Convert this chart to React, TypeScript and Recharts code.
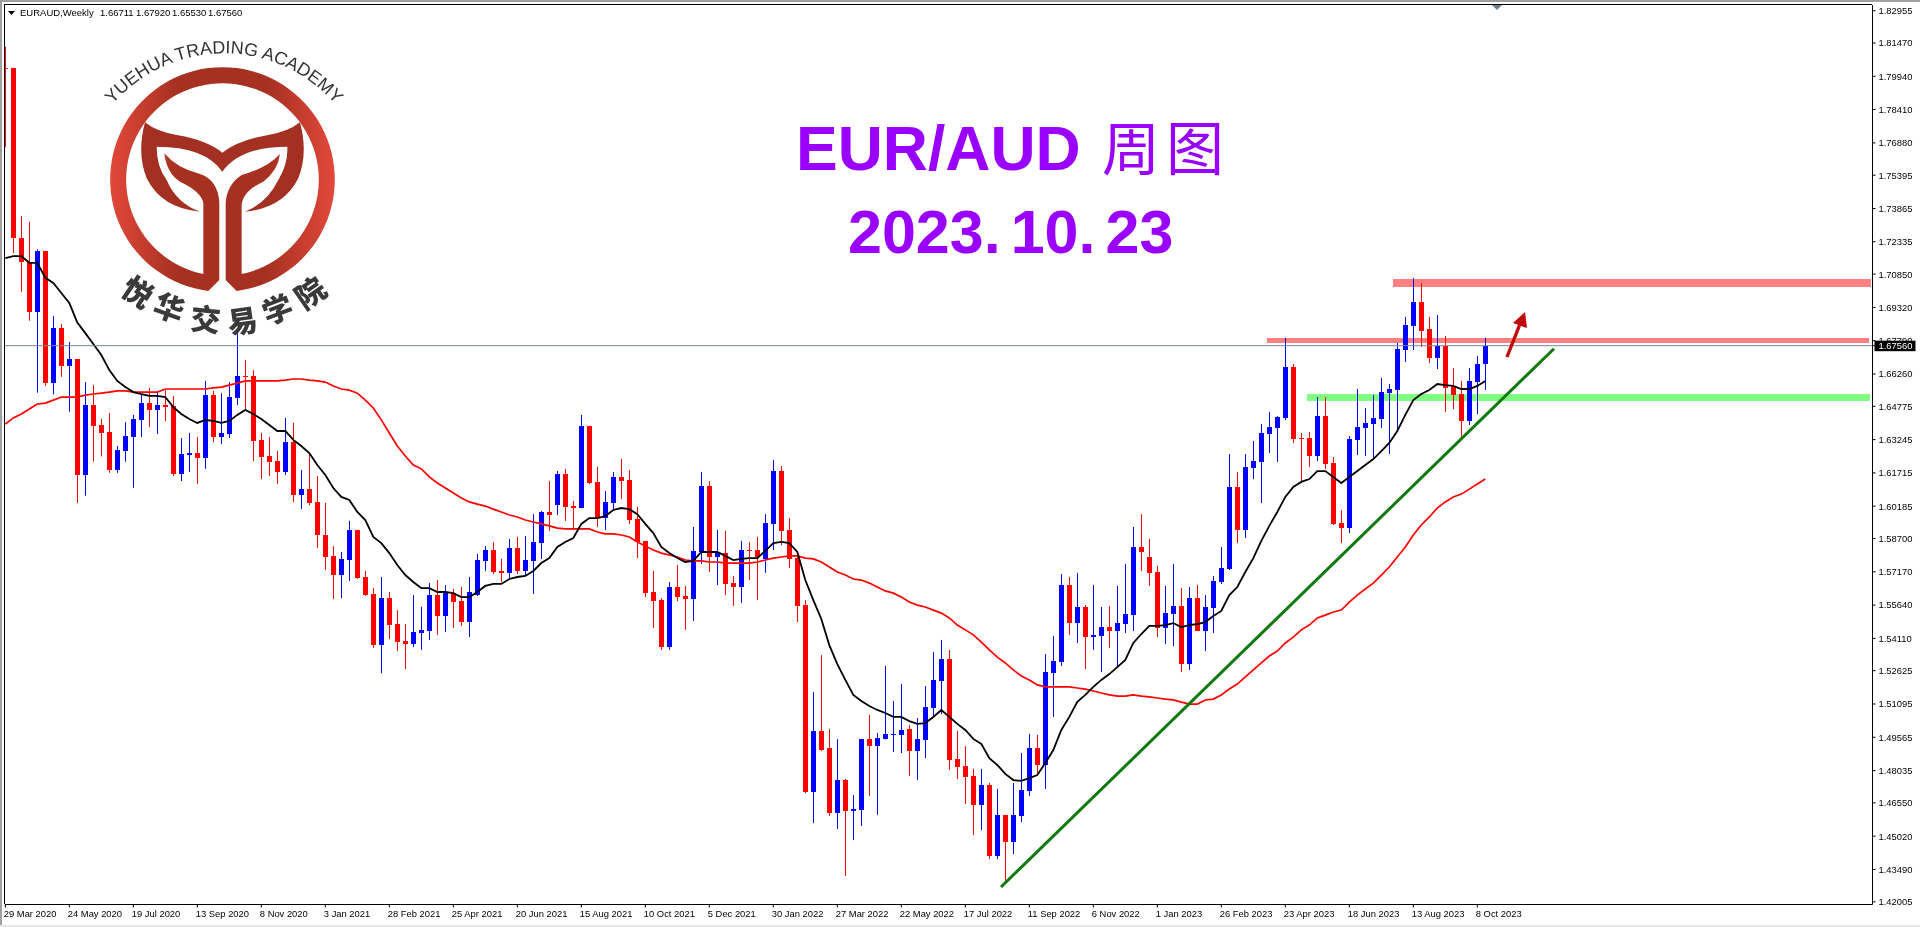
import {
  Bar,
  ComposedChart,
  Line,
  ReferenceArea,
  ReferenceLine,
  XAxis,
  YAxis
} from "recharts";

const font = "'Liberation Sans', Arial, sans-serif";

const opens = [
  1.8032, 1.8030, 1.7253, 1.7142, 1.6912, 1.7191, 1.6583, 1.6837, 1.6662, 1.6694, 1.6162, 1.6485, 1.6392, 1.6359, 1.6185, 1.6272,
  1.6336, 1.6415, 1.6492, 1.6461, 1.6483, 1.6479, 1.6166, 1.6254, 1.6263, 1.6240, 1.6529, 1.6336, 1.6350, 1.6516, 1.6617, 1.6617,
  1.6323, 1.6249, 1.6226, 1.6176, 1.6313, 1.6070, 1.6097, 1.6038, 1.5886, 1.5789, 1.5702, 1.5771, 1.5909, 1.5693, 1.5615, 1.5380,
  1.5596, 1.5477, 1.5399, 1.5385, 1.5437, 1.5445, 1.5610, 1.5514, 1.5619, 1.5583, 1.5486, 1.5610, 1.5767, 1.5817, 1.5721, 1.5712,
  1.5826, 1.5721, 1.5767, 1.5849, 1.5992, 1.6024, 1.6166, 1.6019, 1.6010, 1.6387, 1.6130, 1.5964, 1.6033, 1.6153, 1.6139, 1.5959,
  1.5858, 1.5624, 1.5587, 1.5371, 1.5647, 1.5606, 1.5592, 1.5808, 1.6111, 1.5785, 1.5803, 1.5665, 1.5647, 1.5817, 1.5817, 1.5776,
  1.5937, 1.6180, 1.5909, 1.5780, 1.5564, 1.4705, 1.4985, 1.4907, 1.4608, 1.4760, 1.4618, 1.4622, 1.4948, 1.4916, 1.4948, 1.4967,
  1.4967, 1.4995, 1.4893, 1.4944, 1.5091, 1.5215, 1.5316, 1.4857, 1.4825, 1.4778, 1.4645, 1.4737, 1.4411, 1.4599, 1.4475, 1.4595,
  1.4710, 1.4907, 1.4829, 1.5252, 1.5302, 1.5656, 1.5481, 1.5555, 1.5417, 1.5422, 1.5463, 1.5445, 1.5477, 1.5518, 1.5831, 1.5785,
  1.5716, 1.5459, 1.5523, 1.5560, 1.5293, 1.5596, 1.5445, 1.5551, 1.5670, 1.5730, 1.6107, 1.5909, 1.6194, 1.6222, 1.6350, 1.6378,
  1.6424, 1.6658, 1.6332, 1.6332, 1.6249, 1.6433, 1.6217, 1.5941, 1.5918, 1.6323, 1.6378, 1.6396, 1.6419, 1.6538, 1.6552, 1.6736,
  1.6847, 1.6957, 1.6833, 1.6699, 1.6755, 1.6571, 1.6534, 1.6410, 1.6589, 1.66711
];

const highs = [
  1.8129, 1.8034, 1.7352, 1.7325, 1.7199, 1.7192, 1.6892, 1.6856, 1.6773, 1.6695, 1.6589, 1.6575, 1.6419, 1.6447, 1.6295, 1.6405,
  1.6438, 1.6529, 1.6562, 1.6543, 1.6552, 1.6525, 1.6332, 1.6355, 1.6336, 1.6594, 1.6548, 1.6538, 1.6589, 1.6820, 1.6690, 1.6644,
  1.6355, 1.6336, 1.6272, 1.6424, 1.6401, 1.6185, 1.6263, 1.6157, 1.6033, 1.5835, 1.5808, 1.5951, 1.5910, 1.5721, 1.5642, 1.5693,
  1.5624, 1.5541, 1.5477, 1.5610, 1.5556, 1.5665, 1.5679, 1.5656, 1.5638, 1.5647, 1.5693, 1.5799, 1.5835, 1.5854, 1.5776, 1.5868,
  1.5877, 1.5881, 1.5982, 1.5996, 1.6134, 1.6180, 1.6190, 1.6042, 1.6438, 1.6388, 1.6199, 1.6088, 1.6176, 1.6235, 1.6185, 1.6015,
  1.5859, 1.5721, 1.5596, 1.5670, 1.5748, 1.5652, 1.5923, 1.6176, 1.6134, 1.5909, 1.5905, 1.5698, 1.5859, 1.5854, 1.5877, 1.5982,
  1.6231, 1.6203, 1.5964, 1.5803, 1.5587, 1.5164, 1.5334, 1.4994, 1.4948, 1.4765, 1.4691, 1.4949, 1.5059, 1.4976, 1.5284, 1.5123,
  1.5201, 1.5013, 1.5045, 1.5192, 1.5348, 1.5404, 1.5358, 1.4985, 1.4916, 1.4811, 1.4811, 1.4746, 1.4719, 1.4600, 1.4746, 1.4884,
  1.4972, 1.4967, 1.5339, 1.5422, 1.5707, 1.5693, 1.5711, 1.5564, 1.5656, 1.5555, 1.5560, 1.5652, 1.5753, 1.5923, 1.5982, 1.5868,
  1.5744, 1.5652, 1.5753, 1.5642, 1.5647, 1.5656, 1.5610, 1.5698, 1.5831, 1.6258, 1.6176, 1.6258, 1.6318, 1.6396, 1.6451, 1.6433,
  1.6791, 1.6672, 1.6355, 1.6359, 1.6520, 1.6520, 1.6245, 1.6001, 1.6341, 1.6557, 1.6470, 1.6529, 1.6608, 1.6580, 1.6768, 1.6888,
  1.7067, 1.7044, 1.6888, 1.6897, 1.6801, 1.6653, 1.6594, 1.6653, 1.6709, 1.67920
];

const lows = [
  1.7669, 1.7182, 1.7004, 1.6871, 1.6540, 1.6571, 1.6533, 1.6613, 1.6453, 1.6034, 1.6067, 1.6223, 1.6247, 1.6172, 1.6172, 1.6223,
  1.6103, 1.6336, 1.6382, 1.6350, 1.6410, 1.6157, 1.6134, 1.6176, 1.6120, 1.6190, 1.6313, 1.6304, 1.6332, 1.6483, 1.6465, 1.6226,
  1.6143, 1.6157, 1.6120, 1.6162, 1.6037, 1.6005, 1.6023, 1.5826, 1.5725, 1.5592, 1.5596, 1.5675, 1.5684, 1.5606, 1.5367, 1.5251,
  1.5408, 1.5353, 1.5270, 1.5371, 1.5358, 1.5404, 1.5427, 1.5440, 1.5459, 1.5468, 1.5417, 1.5606, 1.5721, 1.5707, 1.5670, 1.5679,
  1.5707, 1.5702, 1.5615, 1.5776, 1.5905, 1.5978, 1.5951, 1.5909, 1.6009, 1.6120, 1.5923, 1.5909, 1.6001, 1.6051, 1.5937, 1.5780,
  1.5601, 1.5459, 1.5358, 1.5358, 1.5583, 1.5450, 1.5491, 1.5753, 1.5716, 1.5656, 1.5610, 1.5560, 1.5574, 1.5679, 1.5587, 1.5712,
  1.5817, 1.5840, 1.5734, 1.5486, 1.4700, 1.4563, 1.4893, 1.4595, 1.4535, 1.4319, 1.4484, 1.4549, 1.4687, 1.4600, 1.4947, 1.4889,
  1.4884, 1.4778, 1.4760, 1.4861, 1.5054, 1.5063, 1.4806, 1.4765, 1.4650, 1.4507, 1.4530, 1.4397, 1.4397, 1.4287, 1.4420, 1.4567,
  1.4687, 1.4783, 1.4719, 1.5050, 1.5284, 1.5427, 1.5390, 1.5270, 1.5358, 1.5256, 1.5367, 1.5279, 1.5436, 1.5445, 1.5721, 1.5652,
  1.5417, 1.5385, 1.5376, 1.5256, 1.5266, 1.5444, 1.5353, 1.5436, 1.5661, 1.5725, 1.5849, 1.5872, 1.6143, 1.6033, 1.6263, 1.6222,
  1.6415, 1.6309, 1.6125, 1.6199, 1.6226, 1.6190, 1.5932, 1.5849, 1.5895, 1.6254, 1.6249, 1.6235, 1.6378, 1.6258, 1.6369, 1.6681,
  1.6736, 1.6750, 1.6676, 1.6649, 1.6451, 1.6465, 1.6332, 1.6392, 1.6442, 1.65530
];

const closes = [
  1.8028, 1.7253, 1.7142, 1.6912, 1.7191, 1.6583, 1.6837, 1.6662, 1.6694, 1.6162, 1.6485, 1.6387, 1.6355, 1.6185, 1.6277, 1.6341,
  1.6419, 1.6492, 1.6461, 1.6483, 1.6474, 1.6166, 1.6258, 1.6262, 1.6240, 1.6529, 1.6336, 1.6355, 1.6520, 1.6617, 1.6612, 1.6318,
  1.6245, 1.6222, 1.6176, 1.6313, 1.6070, 1.6097, 1.6033, 1.5886, 1.5785, 1.5702, 1.5776, 1.5909, 1.5688, 1.5610, 1.5380, 1.5596,
  1.5472, 1.5394, 1.5385, 1.5440, 1.5450, 1.5610, 1.5514, 1.5619, 1.5578, 1.5486, 1.5624, 1.5771, 1.5817, 1.5716, 1.5712, 1.5826,
  1.5721, 1.5771, 1.5854, 1.5992, 1.5978, 1.6166, 1.6015, 1.6010, 1.6387, 1.6125, 1.5964, 1.6038, 1.6153, 1.6134, 1.5955, 1.5854,
  1.5619, 1.5583, 1.5371, 1.5647, 1.5601, 1.5592, 1.5813, 1.6111, 1.5785, 1.5803, 1.5661, 1.5647, 1.5817, 1.5813, 1.5785, 1.5941,
  1.6180, 1.5905, 1.5776, 1.5560, 1.4705, 1.4985, 1.4898, 1.4608, 1.4760, 1.4618, 1.4627, 1.4948, 1.4916, 1.4953, 1.4972, 1.4972,
  1.4990, 1.4893, 1.4948, 1.5096, 1.5220, 1.5316, 1.4852, 1.4820, 1.4774, 1.4645, 1.4737, 1.4411, 1.4599, 1.4475, 1.4599, 1.4714,
  1.4907, 1.4829, 1.5256, 1.5307, 1.5656, 1.5481, 1.5555, 1.5417, 1.5427, 1.5463, 1.5445, 1.5481, 1.5523, 1.5831, 1.5808, 1.5711,
  1.5459, 1.5527, 1.5560, 1.5293, 1.5596, 1.5445, 1.5555, 1.5675, 1.5734, 1.6107, 1.5909, 1.6199, 1.6226, 1.6355, 1.6382, 1.6428,
  1.6658, 1.6327, 1.6327, 1.6249, 1.6433, 1.6212, 1.5937, 1.5918, 1.6327, 1.6382, 1.6401, 1.6424, 1.6543, 1.6557, 1.6741, 1.6851,
  1.6957, 1.6823, 1.6699, 1.6755, 1.6562, 1.6529, 1.6410, 1.6594, 1.6672, 1.67560
];

const blackMa = [
  1.7159, 1.7168, 1.7168, 1.7137, 1.7137, 1.7068, 1.7044, 1.6998, 1.6952, 1.6862, 1.6814, 1.6764, 1.6713, 1.6644, 1.6594, 1.6566,
  1.6543, 1.6534, 1.6525, 1.6525, 1.6520, 1.6474, 1.6442, 1.6419, 1.6401, 1.6415, 1.6410, 1.6401, 1.6410, 1.6438, 1.6461, 1.6442,
  1.6419, 1.6392, 1.6364, 1.6364, 1.6323, 1.6295, 1.6263, 1.6208, 1.6162, 1.6102, 1.6061, 1.6047, 1.5992, 1.5955, 1.5877, 1.5849,
  1.5803, 1.5748, 1.5702, 1.5670, 1.5642, 1.5642, 1.5624, 1.5624, 1.5619, 1.5601, 1.5601, 1.5624, 1.5652, 1.5661, 1.5661, 1.5684,
  1.5693, 1.5698, 1.5721, 1.5757, 1.5780, 1.5831, 1.5854, 1.5872, 1.5937, 1.5964, 1.5964, 1.5973, 1.6001, 1.6010, 1.6005, 1.5982,
  1.5937, 1.5895, 1.5831, 1.5803, 1.5780, 1.5762, 1.5767, 1.5808, 1.5808, 1.5808, 1.5790, 1.5771, 1.5776, 1.5780, 1.5780, 1.5813,
  1.5849, 1.5854, 1.5849, 1.5808, 1.5679, 1.5587, 1.5500, 1.5380, 1.5293, 1.5220, 1.5151, 1.5123, 1.5100, 1.5082, 1.5068, 1.5050,
  1.5050, 1.5031, 1.5018, 1.5022, 1.5050, 1.5082, 1.5050, 1.5018, 1.4990, 1.4949, 1.4926, 1.4861, 1.4829, 1.4788, 1.4760, 1.4756,
  1.4769, 1.4783, 1.4838, 1.4898, 1.4990, 1.5050, 1.5119, 1.5151, 1.5188, 1.5220, 1.5247, 1.5279, 1.5312, 1.5390, 1.5431, 1.5468,
  1.5468, 1.5472, 1.5481, 1.5463, 1.5472, 1.5477, 1.5486, 1.5514, 1.5537, 1.5610, 1.5647, 1.5716, 1.5780, 1.5859, 1.5928, 1.5992,
  1.6061, 1.6107, 1.6130, 1.6143, 1.6180, 1.6180, 1.6153, 1.6125, 1.6153, 1.6180, 1.6208, 1.6235, 1.6272, 1.6309, 1.6364, 1.6438,
  1.6506, 1.6534, 1.6552, 1.6580, 1.6575, 1.6571, 1.6557, 1.6557, 1.6571, 1.6594
];

const redMa = [
  1.6396, 1.6424, 1.6442, 1.6465, 1.6488, 1.6492, 1.6506, 1.6520, 1.6520, 1.6520, 1.6529, 1.6534, 1.6538, 1.6543, 1.6548, 1.6548,
  1.6543, 1.6543, 1.6543, 1.6543, 1.6557, 1.6557, 1.6557, 1.6557, 1.6557, 1.6557, 1.6562, 1.6566, 1.6575, 1.6584, 1.6594, 1.6594,
  1.6594, 1.6594, 1.6594, 1.6598, 1.6603, 1.6603, 1.6598, 1.6594, 1.6589, 1.6571, 1.6557, 1.6552, 1.6538, 1.6506, 1.6470, 1.6415,
  1.6355, 1.6295, 1.6249, 1.6208, 1.6190, 1.6153, 1.6125, 1.6102, 1.6079, 1.6056, 1.6038, 1.6028, 1.6019, 1.6005, 1.5992, 1.5978,
  1.5969, 1.5955, 1.5946, 1.5937, 1.5928, 1.5918, 1.5914, 1.5914, 1.5914, 1.5914, 1.5900, 1.5891, 1.5891, 1.5886, 1.5877, 1.5854,
  1.5835, 1.5817, 1.5803, 1.5794, 1.5785, 1.5771, 1.5767, 1.5767, 1.5762, 1.5762, 1.5757, 1.5757, 1.5757, 1.5757, 1.5762, 1.5771,
  1.5780, 1.5785, 1.5790, 1.5790, 1.5780, 1.5776, 1.5762, 1.5739, 1.5716, 1.5702, 1.5684, 1.5679, 1.5665, 1.5647, 1.5629, 1.5619,
  1.5601, 1.5578, 1.5564, 1.5555, 1.5541, 1.5527, 1.5505, 1.5472, 1.5450, 1.5427, 1.5394, 1.5358, 1.5325, 1.5298, 1.5266, 1.5238,
  1.5220, 1.5197, 1.5188, 1.5188, 1.5188, 1.5188, 1.5183, 1.5178, 1.5169, 1.5160, 1.5151, 1.5146, 1.5146, 1.5151, 1.5146, 1.5142,
  1.5137, 1.5132, 1.5128, 1.5118, 1.5109, 1.5109, 1.5128, 1.5132, 1.5151, 1.5178, 1.5201, 1.5234, 1.5266, 1.5298, 1.5330, 1.5353,
  1.5390, 1.5417, 1.5450, 1.5472, 1.5505, 1.5518, 1.5532, 1.5541, 1.5578, 1.5610, 1.5638, 1.5665, 1.5702, 1.5739, 1.5785, 1.5831,
  1.5886, 1.5932, 1.5969, 1.6010, 1.6038, 1.6061, 1.6074, 1.6097, 1.6120, 1.6143
];

const priceTicks = [
  1.82955, 1.8147, 1.7994, 1.7841, 1.7688, 1.75395, 1.73865, 1.72335, 1.7085, 1.6932, 1.6779, 1.6626, 1.64775, 1.63245, 1.61715,
  1.60185, 1.587, 1.5717, 1.5564, 1.5411, 1.52625, 1.51095, 1.49565, 1.48035, 1.4655, 1.4502, 1.4349, 1.42005
];

const weekTicks = [0, 8, 16, 24, 32, 40, 48, 56, 64, 72, 80, 88, 96, 104, 112, 120, 128, 136, 144, 152, 160, 168, 176, 184];
const weekLabels = [
  "29 Mar 2020", "24 May 2020", "19 Jul 2020", "13 Sep 2020", "8 Nov 2020", "3 Jan 2021", "28 Feb 2021", "25 Apr 2021",
  "20 Jun 2021", "15 Aug 2021", "10 Oct 2021", "5 Dec 2021", "30 Jan 2022", "27 Mar 2022", "22 May 2022", "17 Jul 2022",
  "11 Sep 2022", "6 Nov 2022", "1 Jan 2023", "26 Feb 2023", "23 Apr 2023", "18 Jun 2023", "13 Aug 2023", "8 Oct 2023"
];

const lastPrice = 1.6756;
const headerValues = ["1.66711", "1.67920", "1.65530", "1.67560"];
const academyChars = ["悦", "华", "交", "易", "学", "院"];

const rows = opens.map((open, index) => ({
  index,
  open,
  high: highs[index],
  low: lows[index],
  close: closes[index],
  range: [lows[index], highs[index]],
  black: blackMa[index],
  red: redMa[index]
}));

function Candle(props: any) {
  const { x, y, width, height, payload } = props;
  const perUnit = height / (payload.high - payload.low);
  const color = payload.close >= payload.open ? "#0000ff" : "#ff0000";
  const top = Math.round(y + (payload.high - Math.max(payload.open, payload.close)) * perUnit);
  const bottom = Math.round(y + (payload.high - Math.min(payload.open, payload.close)) * perUnit);
  // recharts floors the bar offset, so the bar sits half a pixel left of its tick
  const center = Math.floor(x + width / 2 + 0.5);
  return (
    <g>
      <rect x={center} y={y} width={1} height={height} fill={color} />
      <rect x={center - 2} y={top} width={5} height={Math.max(bottom - top, 1)} fill={color} />
    </g>
  );
}

function Zone(props: any) {
  return (
    <rect
      x={props.x}
      y={props.y}
      width={props.width}
      height={props.height}
      fill={props.fill}
      style={{ mixBlendMode: "multiply" }}
    />
  );
}

function PriceTick(props: any) {
  const { x, y, payload } = props;
  if (payload.value === lastPrice) {
    return (
      <g>
        <rect x={x - 4} y={y - 5} width={41} height={10.5} fill="#000000" />
        <text x={x} y={y + 3.5} fill="#ffffff" fontSize={9.4} fontFamily={font}>
          {payload.value.toFixed(5)}
        </text>
      </g>
    );
  }
  return (
    <text x={x} y={y + 3.4} fill="#000000" fontSize={9.4} fontFamily={font}>
      {payload.value.toFixed(5)}
    </text>
  );
}

function WeekTick(props: any) {
  const { x, y, payload } = props;
  return (
    <text x={x - 1.5} y={y + 7} fill="#000000" fontSize={9.4} fontFamily={font}>
      {weekLabels[weekTicks.indexOf(payload.value)]}
    </text>
  );
}

function Logo() {
  const charSpots = [
    [412, 878, 34],
    [507, 925, 20],
    [617, 960, 6],
    [728, 965, -8],
    [833, 930, -21],
    [932, 880, -35]
  ];
  return (
    <g transform="scale(0.3333)">
      <defs>
        <linearGradient id="ring" gradientUnits="userSpaceOnUse" x1="330" y1="0" x2="1003" y2="0">
          <stop offset="0" stopColor="#e2483a" />
          <stop offset="0.3" stopColor="#a63122" />
          <stop offset="0.7" stopColor="#a63122" />
          <stop offset="1" stopColor="#e2483a" />
        </linearGradient>
        <path id="academyArc" d="M 231 601 A 441 441 0 0 1 1113 601" fill="none" />
      </defs>
      <path
        fill="url(#ring)"
        d="M 625 873 A 337 337 0 1 1 710 873 L 677 840 L 677 610 Q 680 555 725 525 Q 800 505 840 462 Q 835 510 790 545 Q 725 575 725 620 L 725 822 A 289 289 0 1 0 610 822 L 610 610 Q 605 575 540 545 Q 500 520 493 460 Q 530 505 600 522 Q 655 540 658 610 L 658 840 Z"
      />
      <path
        fill="#a33022"
        d="M 435 367 Q 470 395 530 405 Q 620 420 667 458 Q 715 420 805 405 Q 865 395 900 367 Q 925 460 895 535 Q 850 625 735 635 Q 800 610 835 540 Q 865 490 862 440 Q 720 440 667 515 Q 615 440 470 440 Q 470 500 500 540 Q 530 610 600 635 Q 485 625 440 535 Q 410 460 435 367 Z"
      />
      <text fill="#333333" fontSize={54} fontFamily={font}>
        <textPath href="#academyArc" startOffset="50%" textAnchor="middle">
          YUEHUA TRADING ACADEMY
        </textPath>
      </text>
      {academyChars.map((char, i) => (
        <text
          key={char}
          transform={`translate(${charSpots[i][0]} ${charSpots[i][1]}) rotate(${charSpots[i][2]})`}
          textAnchor="middle"
          dy={32}
          fill="#3a3a3a"
          fontSize={90}
          fontWeight={900}
          fontFamily="'Noto Sans CJK SC'"
        >
          {char}
        </text>
      ))}
    </g>
  );
}

function Overlay() {
  return (
    <svg width={1920} height={927} style={{ position: "absolute", left: 0, top: 0, pointerEvents: "none" }}>
      <polygon points="8,11 15,11 11.5,15" fill="#000000" />
      <text x={20} y={16} fill="#000000" fontSize={9.5} fontFamily={font}>
        EURAUD,Weekly
      </text>
      {headerValues.map((value, i) => (
        <text key={value} x={100 + i * 36} y={16} fill="#000000" fontSize={9.5} fontFamily={font}>
          {value}
        </text>
      ))}
      <polygon points="1492,5 1502,5 1497,10" fill="#6f7f8f" />
      <text x={796} y={170} fill="#9900ff" fontSize={62.5} fontWeight={700} fontFamily={font}>
        EUR/AUD
      </text>
      <text x={1102} y={170} fill="#9900ff" fontSize={58} letterSpacing={6} fontFamily="'Noto Sans CJK SC'">
        周图
      </text>
      <text x={848} y={253} fill="#9900ff" fontSize={61} fontWeight={700} fontFamily={font}>
        2023.
        <tspan dx={10}>10.</tspan>
        <tspan dx={10}>23</tspan>
      </text>
      <line x1={1507} y1={357} x2={1520} y2={324} stroke="#c00808" strokeWidth={3.4} />
      <polygon points="1513,323 1525,312 1527,328" fill="#c00808" />
      <Logo />
    </svg>
  );
}

export default function App() {
  return (
    <div style={{ position: "absolute", left: 0, top: 0, width: 1920, height: 927, background: "#ffffff", overflow: "hidden" }}>
      <ComposedChart
        width={1920}
        height={927}
        data={rows}
        margin={{ top: 5, right: 0, bottom: 0, left: 5 }}
      >
        <XAxis
          dataKey="index"
          type="number"
          domain={[-0.04, 233.4]}
          allowDataOverflow
          ticks={weekTicks}
          interval={0}
          height={22.5}
          tickSize={3}
          stroke="#000000"
          tick={<WeekTick />}
        />
        <YAxis
          orientation="right"
          type="number"
          domain={[1.4188, 1.83217]}
          allowDataOverflow
          ticks={[...priceTicks, lastPrice]}
          interval={0}
          width={47.5}
          tickSize={3}
          tickMargin={3}
          stroke="#000000"
          tick={<PriceTick />}
        />
        <Bar dataKey="range" barSize={5} isAnimationActive={false} shape={<Candle />} />
        <Line dataKey="red" stroke="#ff0000" strokeWidth={1.7} dot={false} isAnimationActive={false} />
        <Line dataKey="black" stroke="#000000" strokeWidth={1.8} dot={false} isAnimationActive={false} />
        <ReferenceLine y={lastPrice} stroke="#778899" strokeWidth={1} />
        <ReferenceArea x1={173.46} x2={233.2} y1={1.70257} y2={1.70625} fill="#ff8080" shape={<Zone />} />
        <ReferenceArea x1={157.7} x2={232.96} y1={1.67684} y2={1.67914} fill="#ff8080" shape={<Zone />} />
        <ReferenceArea x1={162.7} x2={233.08} y1={1.65019} y2={1.65341} fill="#80ff80" shape={<Zone />} />
        <ReferenceLine
          segment={[
            { x: 124.46, y: 1.42684 },
            { x: 193.58, y: 1.67422 }
          ]}
          stroke="#107a10"
          strokeWidth={3}
        />
      </ComposedChart>
      <div style={{ position: "absolute", left: 4, top: 4, width: 1868, height: 1, background: "#000000" }} />
      <div style={{ position: "absolute", left: 4, top: 4, width: 1, height: 900, background: "#000000" }} />
      <div style={{ position: "absolute", left: 0, top: 0, width: 1920, height: 2, background: "#a0a0a0" }} />
      <div style={{ position: "absolute", left: 0, top: 0, width: 2, height: 927, background: "#a0a0a0" }} />
      <div style={{ position: "absolute", left: 0, top: 925, width: 1920, height: 2, background: "#e8e8e8" }} />
      <Overlay />
    </div>
  );
}
